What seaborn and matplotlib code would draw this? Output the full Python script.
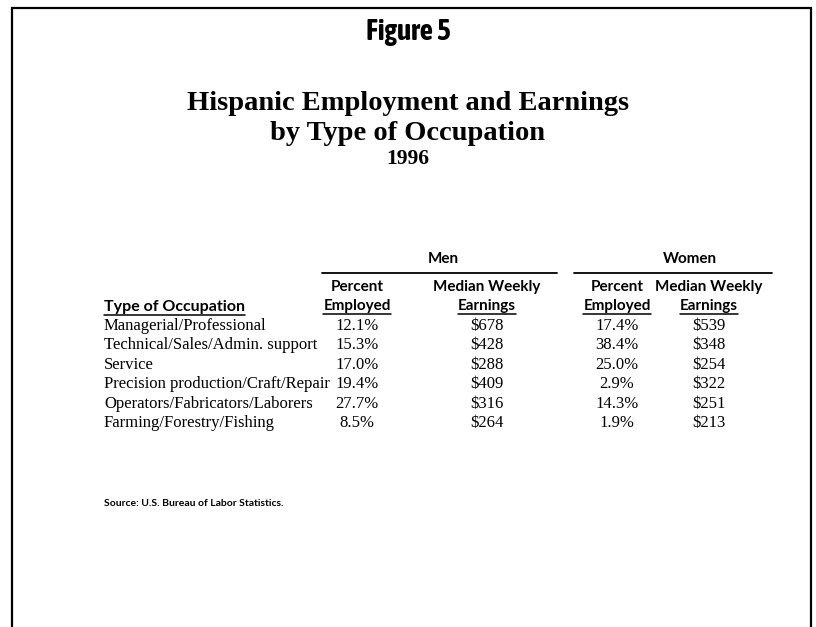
import glob
import matplotlib
matplotlib.use('Agg')
import matplotlib.pyplot as plt
from matplotlib.font_manager import FontProperties
import seaborn as sns
import pandas as pd

# table data
occupations = ['Managerial/Professional', 'Technical/Sales/Admin. support', 'Service',
               'Precision production/Craft/Repair', 'Operators/Fabricators/Laborers',
               'Farming/Forestry/Fishing']
men_pct = [12.1, 15.3, 17.0, 19.4, 27.7, 8.5]
men_earn = [678, 428, 288, 409, 316, 264]
women_pct = [17.4, 38.4, 25.0, 2.9, 14.3, 1.9]
women_earn = [539, 348, 254, 322, 251, 213]

df = pd.DataFrame({'occupation': occupations, 'men_pct': men_pct, 'men_earn': men_earn,
                   'women_pct': women_pct, 'women_earn': women_earn})

sns.set_theme(style='white')
plt.rcParams['font.family'] = ['Liberation Serif', 'DejaVu Serif']
plt.rcParams['text.color'] = 'black'

# condensed face for the "Figure 5" heading, if one is around
cands = glob.glob('/usr/share/fonts/**/AsapCondensed-Bold.ttf', recursive=True)
if cands:
    fig_font = FontProperties(fname=cands[0], size=21)
else:
    fig_font = FontProperties(family='DejaVu Sans', weight='bold', stretch='condensed', size=18)

fig = plt.figure(figsize=(8.16, 6.27), dpi=100)
ax = fig.add_axes([0, 0, 1, 1])
ax.set_xlim(0, 816)
ax.set_ylim(627, 0)
ax.axis('off')

# frame (open at the bottom)
ax.plot([12, 12, 811, 811], [627, 8, 8, 627], color='black', lw=1.6, solid_joinstyle='miter')

ax.text(408, 31, 'Figure 5', ha='center', va='center', fontproperties=fig_font)
ax.text(408, 104, 'Hispanic Employment and Earnings', ha='center', va='center',
        fontsize=20.5, fontweight='bold')
ax.text(408, 134, 'by Type of Occupation', ha='center', va='center', fontsize=20.5, fontweight='bold')
ax.text(408, 159, '1996', ha='center', va='center', fontsize=15.5, fontweight='bold')

# column positions
x_label = 104
x_cols = [357, 487, 617, 709]
head_font = ['Lato', 'DejaVu Sans']

hdr = dict(ha='center', va='center', fontsize=11, fontweight='bold', family=head_font)
ax.text(443, 259, 'Men', **hdr)
ax.text(690, 259, 'Women', **hdr)
ax.plot([322, 557], [273, 273], color='black', lw=1.3)
ax.plot([574, 772], [273, 273], color='black', lw=1.3)

fig.canvas.draw()
renderer = fig.canvas.get_renderer()
inv = ax.transData.inverted()


def underlined(x, y, s, ha='center', **kw):
    t = ax.text(x, y, s, ha=ha, va='center', **kw)
    bb = t.get_window_extent(renderer)
    (x0, y0), (x1, y1) = inv.transform([[bb.x0, bb.y0], [bb.x1, bb.y1]])
    ax.plot([x0, x1], [y0 + 0.5, y0 + 0.5], color='black', lw=1.1)
    return t


for xc, sub in zip(x_cols, ['Employed', 'Earnings', 'Employed', 'Earnings']):
    top = 'Percent' if sub == 'Employed' else 'Median Weekly'
    ax.text(xc, 287, top, **hdr)
    underlined(xc, 306, sub, fontsize=11, fontweight='bold', family=head_font)
underlined(x_label, 307, 'Type of Occupation', ha='left', fontsize=11.5, fontweight='bold',
           family=head_font)

row0, step = 326, 19.4
for i, r in df.iterrows():
    y = row0 + i * step
    ax.text(x_label, y, r['occupation'], ha='left', va='center', fontsize=12)
    ax.text(x_cols[0], y, f"{r['men_pct']:.1f}%", ha='center', va='center', fontsize=12)
    ax.text(x_cols[1], y, f"${int(r['men_earn'])}", ha='center', va='center', fontsize=12)
    ax.text(x_cols[2], y, f"{r['women_pct']:.1f}%", ha='center', va='center', fontsize=12)
    ax.text(x_cols[3], y, f"${int(r['women_earn'])}", ha='center', va='center', fontsize=12)

ax.text(x_label, 503, 'Source: U.S. Bureau of Labor Statistics.', ha='left', va='center',
        fontsize=7.5, fontweight='bold', family=head_font)

fig.savefig('out.png', dpi=100, facecolor='white')
